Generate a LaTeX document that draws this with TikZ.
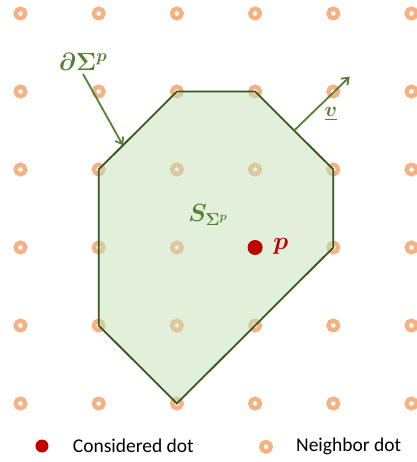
\documentclass[tikz,border=0pt]{standalone}
\usepackage{amsmath,amssymb}
\usepackage{fontspec}
\newfontfamily\legendfont{Carlito}
\usetikzlibrary{arrows.meta,positioning,calc}
\definecolor{ringorange}{RGB}{244,177,131}
\definecolor{cellfill}{RGB}{197,223,181}
\definecolor{celledge}{RGB}{56,87,35}
\definecolor{labelgreen}{RGB}{84,130,53}
\definecolor{dotred}{RGB}{192,0,0}
\tikzset{
  neighbor/.style={draw=ringorange, line width=4.4pt},
  considered/.style={fill=dotred},
  cell/.style={draw=celledge, line width=1.8pt, fill=cellfill, fill opacity=0.5, line join=miter},
  pointer/.style={draw=labelgreen, line width=1.8pt, -{Straight Barb[length=6pt,width=9pt]}},
  greenlabel/.style={text=labelgreen, font=\fontsize{24}{27}\selectfont},
  legendtext/.style={anchor=west, font=\legendfont\fontsize{19.5}{22}\selectfont},
}

\begin{document}
\begin{tikzpicture}[x=78.2pt,y=-78pt]
        % Frame of the picture
        \useasboundingbox (-0.262,-0.173) rectangle (5.070,5.750);
        % Grid of neighbor dots
        \foreach \i in {0,...,5}
          \foreach \j in {0,...,5}
            \draw[neighbor] (\i,\j) circle (4.8pt);
        % Vertices of the cell
        \coordinate (A) at (2,1);
        \coordinate (B) at (3,1);
        \coordinate (C) at (4,2);
        \coordinate (D) at (4,3);
        \coordinate (E) at (2,5);
        \coordinate (F) at (1,4);
        \coordinate (G) at (1,2);
        % Draw the cell
        \draw[cell] (A) -- (B) -- (C) -- (D) -- (E) -- (F) -- (G) -- cycle;
        % Boundary label and its arrow
        \node[greenlabel] (dlab) at (0.80,0.62) {$\boldsymbol{\partial\Sigma^p}$};
        \coordinate (Q) at ($(G)!0.31!(A)$);
        \draw[pointer] (dlab.south) -- (Q);
        % Normal vector
        \coordinate (R) at ($(B)!0.5!(C)$);
        \coordinate (V) at (4.21,0.81);
        \draw[pointer] (R) -- (V);
        \node[greenlabel, font=\fontsize{21}{24}\selectfont] (vlab) at (3.97,1.29) {$\underline{\boldsymbol{v}}$};
        % Cell label
        \node[greenlabel] (slab) at (2.40,2.58) {$\boldsymbol{S_{\Sigma^p}}$};
        % Considered dot
        \fill[considered] (3,3) circle (7.5pt);
        \node[text=dotred, font=\fontsize{28}{31}\selectfont] (plab) at (3.33,2.98) {$\boldsymbol{p}$};
        % Legend
        \fill[considered] (0.275,5.545) circle (6.5pt);
        \node[legendtext] (leg1) at (0.625,5.545) {Considered dot};
        \draw[neighbor] (3.14,5.555) circle (4.8pt);
        \node[legendtext] (leg2) at (3.48,5.555) {Neighbor dot};
    \end{tikzpicture}
\end{document}
